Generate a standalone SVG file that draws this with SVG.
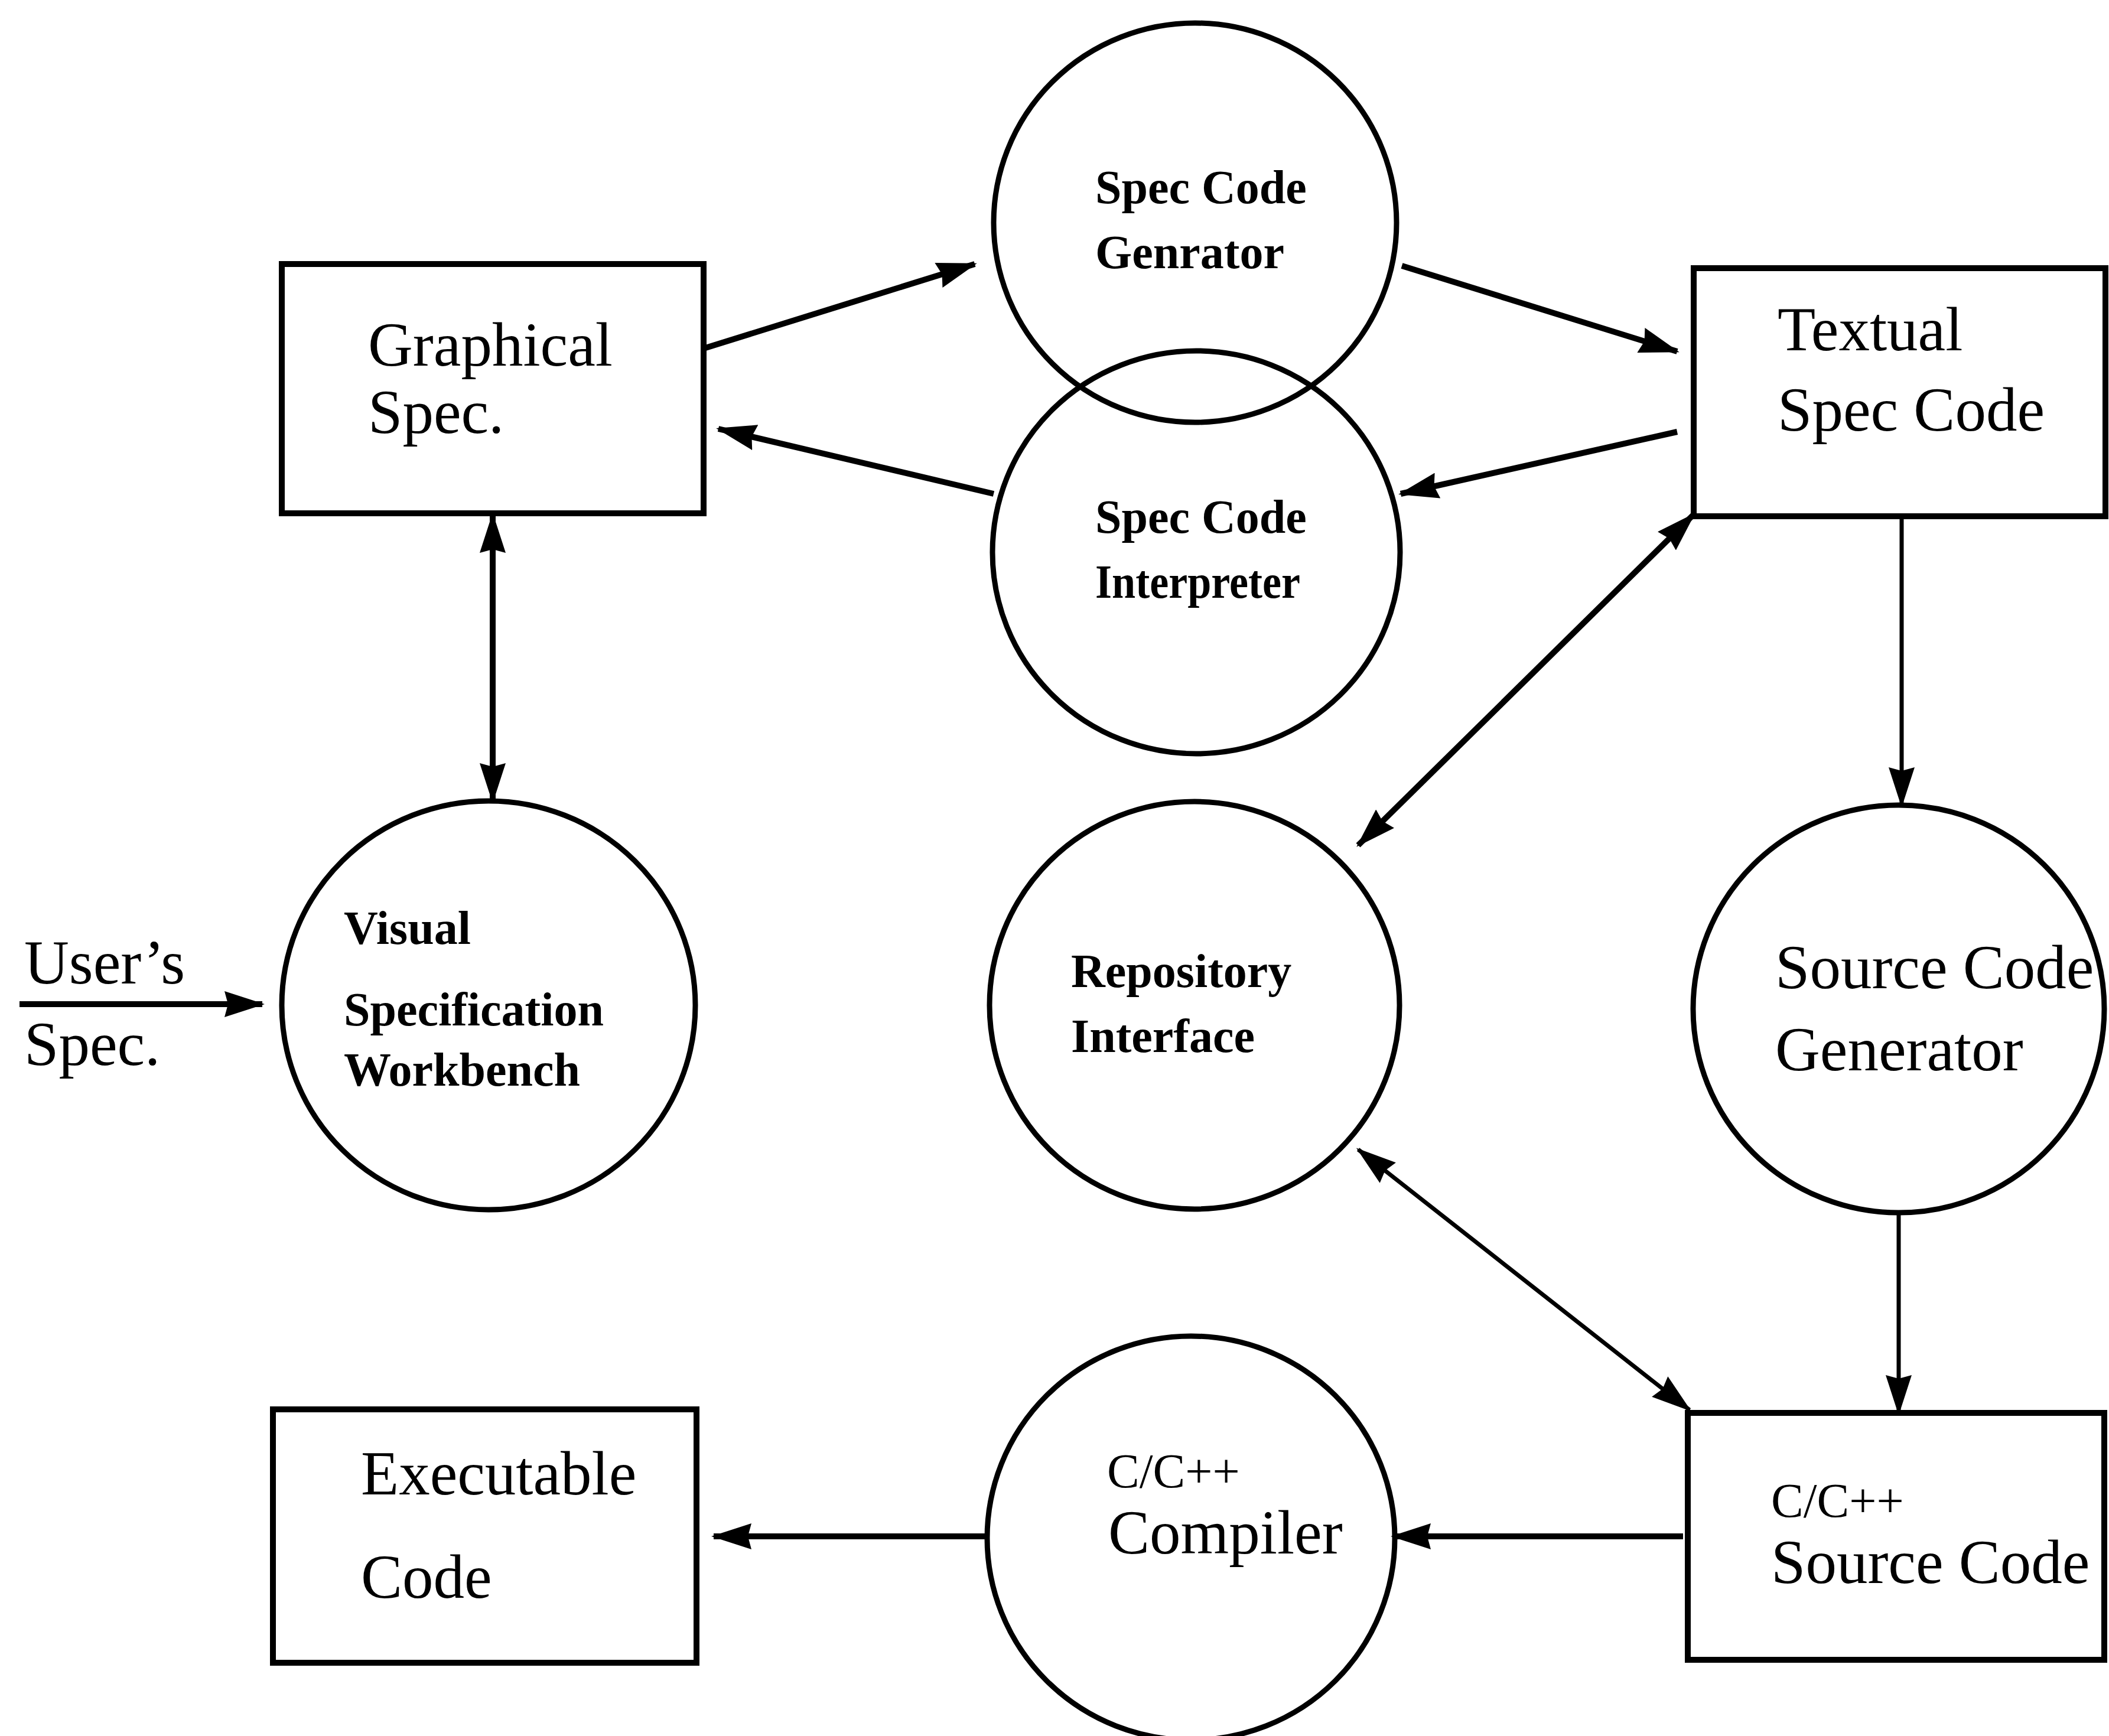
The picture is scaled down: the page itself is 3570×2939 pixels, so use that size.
<svg xmlns="http://www.w3.org/2000/svg" width="3570" height="2939" viewBox="0 0 3570 2939">
  <style>
    .box { fill: #fff; stroke: #000; stroke-width: 10; }
    .bubble { fill: none; stroke: #000; stroke-width: 9; }
    .big { font-family: "Liberation Serif", "Times New Roman", serif; font-size: 105px; fill: #000; }
    .small { font-family: "Liberation Serif", "Times New Roman", serif; font-size: 80px; font-weight: bold; fill: #000; }
    .mid { font-family: "Liberation Serif", "Times New Roman", serif; font-size: 82px; fill: #000; }
    .edge { fill: none; stroke: #000; stroke-width: 10; }
    .edge.thin { stroke-width: 7; }
  </style>
  <defs>
    <marker id="arrow" viewBox="0 0 68 44" markerUnits="userSpaceOnUse" markerWidth="68" markerHeight="44" refX="64" refY="22" orient="auto-start-reverse">
      <path d="M0,0 L68,22 L0,44 L6,22 z" fill="#000"/>
    </marker>
  </defs>
  <rect width="3570" height="2939" fill="#fff"/>

  <g id="connectors">
    <line class="edge" x1="33" y1="1700" x2="444" y2="1700" marker-end="url(#arrow)"/>
    <line class="edge" x1="834" y1="872" x2="834" y2="1356" marker-start="url(#arrow)" marker-end="url(#arrow)"/>
    <line class="edge" x1="1191" y1="590" x2="1650" y2="447" marker-end="url(#arrow)"/>
    <line class="edge" x1="1682" y1="836" x2="1216" y2="726" marker-end="url(#arrow)"/>
    <line class="edge" x1="2373" y1="450" x2="2839" y2="595" marker-end="url(#arrow)"/>
    <line class="edge" x1="2839" y1="731" x2="2371" y2="836" marker-end="url(#arrow)"/>
    <line class="edge" x1="2867" y1="871" x2="2299" y2="1431" marker-start="url(#arrow)" marker-end="url(#arrow)"/>
    <line class="edge thin" x1="3219" y1="874" x2="3219" y2="1363" marker-end="url(#arrow)"/>
    <line class="edge thin" x1="3214" y1="2053" x2="3214" y2="2392" marker-end="url(#arrow)"/>
    <line class="edge thin" x1="2299" y1="1946" x2="2860" y2="2387" marker-start="url(#arrow)" marker-end="url(#arrow)"/>
    <line class="edge" x1="2849" y1="2601" x2="2358" y2="2601" marker-end="url(#arrow)"/>
    <line class="edge" x1="1671" y1="2601" x2="1208" y2="2601" marker-end="url(#arrow)"/>
  </g>

  <g id="users-spec">
    <text class="big" x="41" y="1665">User’s</text>
    <text class="big" x="41" y="1803">Spec.</text>
  </g>

  <g id="graphical-spec">
    <rect class="box" x="477" y="447" width="714" height="422"/>
    <text class="big" x="623" y="619">Graphical</text>
    <text class="big" x="623" y="733">Spec.</text>
  </g>

  <g id="spec-code-generator">
    <ellipse class="bubble" cx="2023" cy="377" rx="341" ry="338"/>
    <text class="small" x="1854" y="344">Spec Code</text>
    <text class="small" x="1854" y="454">Genrator</text>
  </g>

  <g id="spec-code-interpreter">
    <ellipse class="bubble" cx="2025" cy="935" rx="345" ry="341"/>
    <text class="small" x="1854" y="902">Spec Code</text>
    <text class="small" x="1854" y="1012" textLength="347" lengthAdjust="spacingAndGlyphs">Interpreter</text>
  </g>

  <g id="textual-spec-code">
    <rect class="box" x="2867" y="454" width="697" height="420"/>
    <text class="big" x="3009" y="593">Textual</text>
    <text class="big" x="3009" y="729">Spec Code</text>
  </g>

  <g id="visual-specification-workbench">
    <ellipse class="bubble" cx="827" cy="1702" rx="350" ry="346"/>
    <text class="small" x="582" y="1598">Visual</text>
    <text class="small" x="582" y="1736">Specification</text>
    <text class="small" x="582" y="1838">Workbench</text>
  </g>

  <g id="repository-interface">
    <ellipse class="bubble" cx="2022" cy="1702" rx="347" ry="345"/>
    <text class="small" x="1813" y="1671">Repository</text>
    <text class="small" x="1813" y="1781">Interface</text>
  </g>

  <g id="source-code-generator">
    <ellipse class="bubble" cx="3214" cy="1708" rx="348" ry="345"/>
    <text class="big" x="3005" y="1673">Source Code</text>
    <text class="big" x="3005" y="1812">Generator</text>
  </g>

  <g id="cpp-source-code">
    <rect class="box" x="2857" y="2392" width="705" height="418"/>
    <text class="mid" x="2998" y="2568">C/C++</text>
    <text class="big" x="2998" y="2680">Source Code</text>
  </g>

  <g id="cpp-compiler">
    <ellipse class="bubble" cx="2016" cy="2604" rx="345" ry="342"/>
    <text class="mid" x="1874" y="2518">C/C++</text>
    <text class="big" x="1876" y="2630">Compiler</text>
  </g>

  <g id="executable-code">
    <rect class="box" x="462" y="2386" width="717" height="429"/>
    <text class="big" x="611" y="2530">Executable</text>
    <text class="big" x="611" y="2705">Code</text>
  </g>
</svg>
